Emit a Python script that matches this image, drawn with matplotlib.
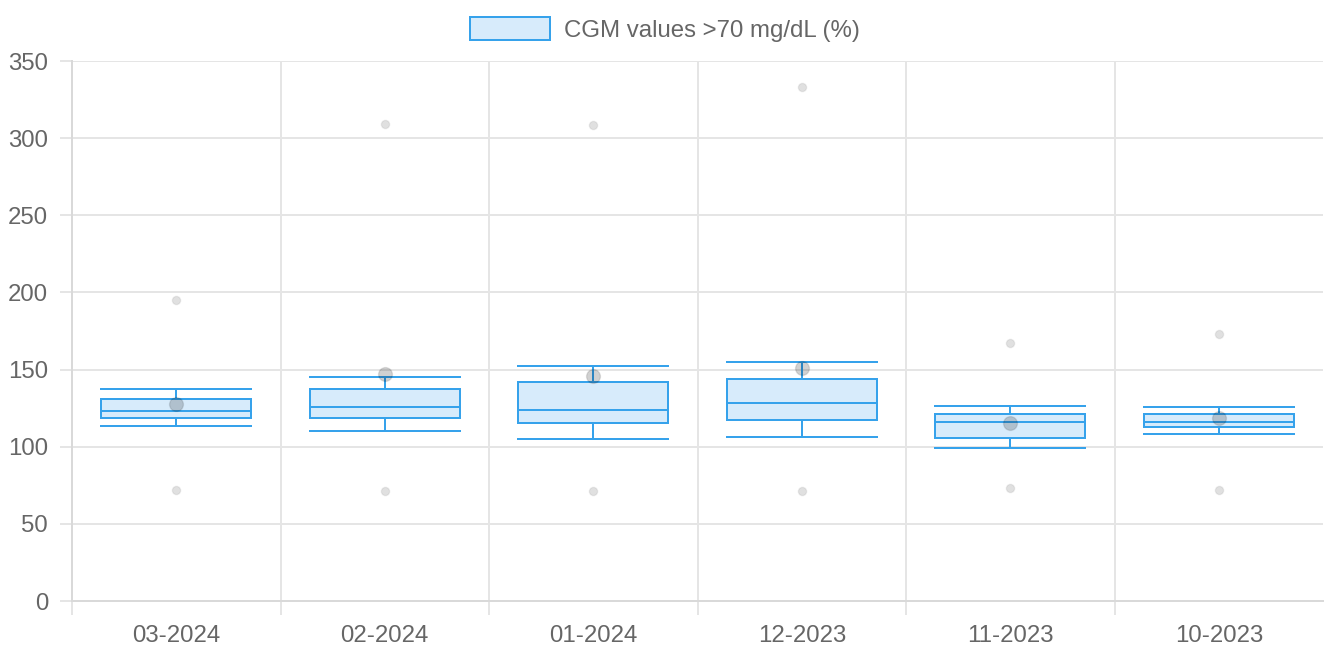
import matplotlib
matplotlib.use("Agg")
import matplotlib.pyplot as plt
from matplotlib.patches import Patch
import numpy as np

plt.rcParams['font.family'] = ['Liberation Sans', 'DejaVu Sans']

# box plot stats per month
months = ['03-2024', '02-2024', '01-2024', '12-2023', '11-2023', '10-2023']
whisk_lo = [113.2, 110.4, 105.2, 106.1, 99.0, 108.2]
q1 = [118.4, 118.4, 115.2, 117.3, 105.8, 113.0]
median = [123.1, 125.9, 123.8, 128.1, 116.2, 116.0]
q3 = [130.9, 137.4, 141.7, 143.9, 121.0, 121.0]
whisk_hi = [137.2, 145.4, 152.5, 154.9, 126.4, 125.5]
mean = [127.7, 147.1, 145.8, 150.8, 115.2, 118.4]
outliers = [[195.0, 71.9], [309.1, 71.3], [308.5, 71.3],
            [333.1, 71.3], [167.2, 73.2], [173.0, 71.9]]
yticks = [0, 50, 100, 150, 200, 250, 300, 350]

blue = '#36a2eb'
fill = '#d7ebfb'
grid = '#e5e5e5'
txt = '#666666'
lw = 1.44  # 2 px

fig = plt.figure(figsize=(13.3, 6.49), dpi=100)
ax = fig.add_axes([72/1330, 1 - 601/649, (1323-72)/1330, (601-61)/649])

stats = []
for i in range(len(months)):
    stats.append(dict(med=median[i], q1=q1[i], q3=q3[i], whislo=whisk_lo[i],
                      whishi=whisk_hi[i], mean=mean[i], fliers=outliers[i]))

pos = np.arange(len(months))
ax.bxp(stats, positions=pos, widths=0.72, capwidths=0.72, showmeans=True,
       patch_artist=True,
       boxprops=dict(facecolor=fill, edgecolor=blue, linewidth=lw),
       medianprops=dict(color=blue, linewidth=lw),
       whiskerprops=dict(color=blue, linewidth=lw),
       capprops=dict(color=blue, linewidth=lw),
       meanprops=dict(marker='o', markersize=10, markerfacecolor=(0, 0, 0, 0.18),
                      markeredgecolor=(0, 0, 0, 0.1), markeredgewidth=1),
       flierprops=dict(marker='o', markersize=6, markerfacecolor=(0, 0, 0, 0.12),
                       markeredgecolor=(0, 0, 0, 0.06), markeredgewidth=1),
       zorder=3)

ax.set_xlim(-0.5, len(months) - 0.5)
ax.set_ylim(0, 350)

# grid lines
ax.set_yticks(yticks)
ax.set_xticks(pos)
ax.set_xticklabels(months)
ax.set_xticks(np.arange(-0.5, len(months) - 1), minor=True)
ax.grid(axis='y', color=grid, linewidth=lw, zorder=0)
ax.grid(axis='x', which='minor', color=grid, linewidth=lw, zorder=0)
ax.set_axisbelow(True)

ax.tick_params(axis='y', length=8.6, width=lw, color=grid, labelsize=17.3,
               labelcolor=txt, pad=8.6)
ax.tick_params(axis='x', which='major', length=0, labelsize=17.3,
               labelcolor=txt, pad=17)
ax.tick_params(axis='x', which='minor', length=10, width=lw, color=grid)

for s in ['top', 'right']:
    ax.spines[s].set_visible(False)
for s in ['left', 'bottom']:
    ax.spines[s].set_color('#d9d9d9')
    ax.spines[s].set_linewidth(lw)

handle = Patch(facecolor=fill, edgecolor=blue, linewidth=lw)
fig.legend([handle], ['CGM values >70 mg/dL (%)'], loc='upper center',
           bbox_to_anchor=(0.5, 1 - 5/649), frameon=False, fontsize=17.3,
           labelcolor=txt, handlelength=3.33, handleheight=1.1,
           handletextpad=0.55, borderpad=0)

fig.savefig('out.png', dpi=100)
